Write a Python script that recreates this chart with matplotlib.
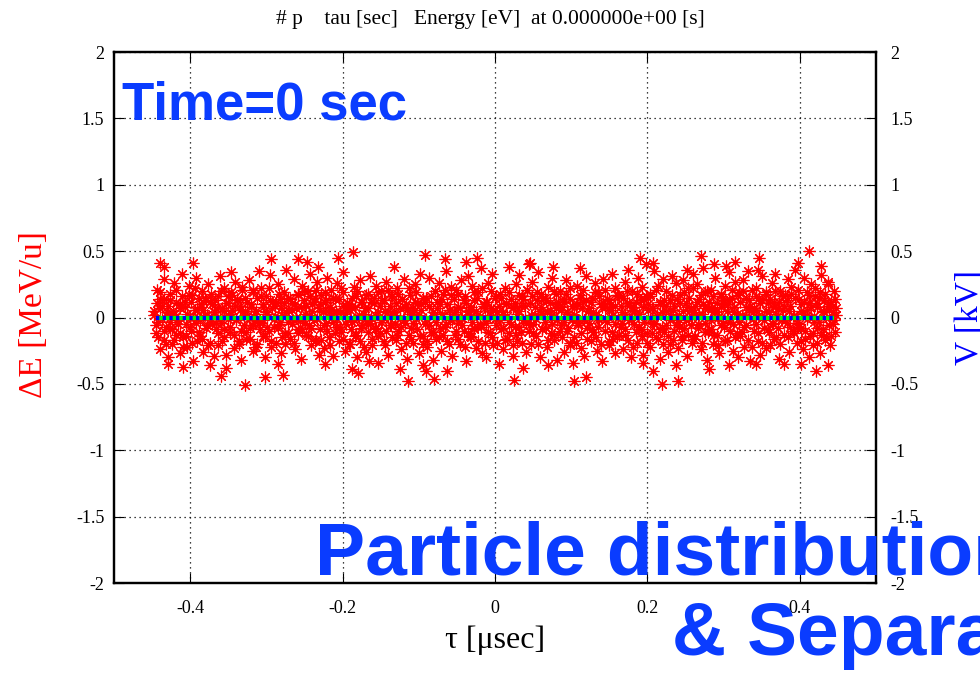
import numpy as np

import matplotlib
matplotlib.use("Agg")

import matplotlib.pyplot as plt

from matplotlib.ticker import FormatStrFormatter


# =========================
# PARTICLE DATA (tau [usec], dE [MeV/u])
# =========================

tau_core = [
    -0.447, -0.445, -0.443, -0.442, -0.440, -0.439, -0.437, -0.435, -0.434, -0.432, -0.431, -0.429,
    -0.427, -0.426, -0.424, -0.422, -0.421, -0.419, -0.418, -0.416, -0.414, -0.413, -0.411, -0.409,
    -0.407, -0.405, -0.404, -0.402, -0.400, -0.399, -0.397, -0.396, -0.394, -0.392, -0.391, -0.389,
    -0.387, -0.386, -0.384, -0.383, -0.381, -0.379, -0.378, -0.376, -0.374, -0.373, -0.371, -0.369,
    -0.368, -0.366, -0.364, -0.363, -0.361, -0.360, -0.358, -0.356, -0.355, -0.353, -0.351, -0.350,
    -0.348, -0.346, -0.345, -0.343, -0.341, -0.340, -0.338, -0.336, -0.335, -0.333, -0.332, -0.330,
    -0.328, -0.327, -0.325, -0.323, -0.322, -0.320, -0.318, -0.317, -0.315, -0.313, -0.312, -0.310,
    -0.308, -0.307, -0.305, -0.304, -0.302, -0.300, -0.299, -0.297, -0.295, -0.294, -0.292, -0.290,
    -0.289, -0.287, -0.285, -0.284, -0.282, -0.281, -0.279, -0.277, -0.276, -0.274, -0.272, -0.271,
    -0.269, -0.267, -0.266, -0.264, -0.262, -0.261, -0.259, -0.258, -0.256, -0.254, -0.253, -0.251,
    -0.249, -0.248, -0.246, -0.244, -0.243, -0.241, -0.240, -0.238, -0.236, -0.235, -0.233, -0.231,
    -0.230, -0.228, -0.226, -0.225, -0.223, -0.222, -0.220, -0.218, -0.217, -0.215, -0.213, -0.212,
    -0.210, -0.208, -0.207, -0.205, -0.203, -0.202, -0.200, -0.199, -0.197, -0.195, -0.194, -0.192,
    -0.190, -0.189, -0.187, -0.185, -0.184, -0.182, -0.181, -0.179, -0.177, -0.176, -0.174, -0.172,
    -0.171, -0.169, -0.167, -0.166, -0.164, -0.163, -0.161, -0.159, -0.158, -0.156, -0.154, -0.153,
    -0.151, -0.149, -0.148, -0.146, -0.145, -0.143, -0.141, -0.140, -0.138, -0.136, -0.135, -0.133,
    -0.131, -0.130, -0.128, -0.127, -0.125, -0.123, -0.122, -0.120, -0.118, -0.117, -0.115, -0.113,
    -0.112, -0.110, -0.108, -0.107, -0.105, -0.104, -0.102, -0.100, -0.099, -0.097, -0.095, -0.094,
    -0.092, -0.090, -0.089, -0.087, -0.086, -0.084, -0.082, -0.081, -0.079, -0.077, -0.076, -0.074,
    -0.072, -0.071, -0.069, -0.068, -0.066, -0.064, -0.063, -0.061, -0.059, -0.058, -0.056, -0.054,
    -0.053, -0.051, -0.049, -0.048, -0.046, -0.045, -0.043, -0.041, -0.040, -0.038, -0.036, -0.035,
    -0.033, -0.031, -0.030, -0.028, -0.027, -0.025, -0.023, -0.022, -0.020, -0.018, -0.017, -0.015,
    -0.013, -0.012, -0.010, -0.009, -0.007, -0.005, -0.004, -0.002, 0.000, 0.001, 0.003, 0.005,
    0.006, 0.008, 0.010, 0.011, 0.013, 0.014, 0.016, 0.018, 0.019, 0.021, 0.023, 0.024,
    0.026, 0.028, 0.029, 0.031, 0.032, 0.034, 0.036, 0.037, 0.039, 0.041, 0.042, 0.044,
    0.046, 0.047, 0.049, 0.050, 0.052, 0.054, 0.055, 0.057, 0.059, 0.060, 0.062, 0.063,
    0.065, 0.067, 0.068, 0.070, 0.072, 0.073, 0.075, 0.077, 0.078, 0.080, 0.081, 0.083,
    0.085, 0.086, 0.088, 0.090, 0.091, 0.093, 0.095, 0.096, 0.098, 0.099, 0.101, 0.103,
    0.104, 0.106, 0.108, 0.109, 0.111, 0.113, 0.114, 0.116, 0.117, 0.119, 0.121, 0.122,
    0.124, 0.126, 0.127, 0.129, 0.131, 0.132, 0.134, 0.135, 0.137, 0.139, 0.140, 0.142,
    0.144, 0.145, 0.147, 0.149, 0.150, 0.152, 0.153, 0.155, 0.157, 0.158, 0.160, 0.162,
    0.163, 0.165, 0.167, 0.168, 0.170, 0.171, 0.173, 0.175, 0.176, 0.178, 0.180, 0.181,
    0.183, 0.185, 0.186, 0.188, 0.189, 0.191, 0.193, 0.194, 0.196, 0.198, 0.199, 0.201,
    0.203, 0.204, 0.206, 0.207, 0.209, 0.211, 0.212, 0.214, 0.216, 0.217, 0.219, 0.221,
    0.222, 0.224, 0.225, 0.227, 0.229, 0.230, 0.232, 0.234, 0.235, 0.237, 0.239, 0.240,
    0.242, 0.243, 0.245, 0.247, 0.248, 0.250, 0.252, 0.253, 0.255, 0.257, 0.258, 0.260,
    0.261, 0.263, 0.265, 0.266, 0.268, 0.270, 0.271, 0.273, 0.275, 0.276, 0.278, 0.279,
    0.281, 0.283, 0.284, 0.286, 0.288, 0.289, 0.291, 0.293, 0.294, 0.296, 0.297, 0.299,
    0.301, 0.302, 0.304, 0.306, 0.307, 0.309, 0.311, 0.312, 0.314, 0.315, 0.317, 0.319,
    0.320, 0.322, 0.324, 0.325, 0.327, 0.329, 0.330, 0.332, 0.333, 0.335, 0.337, 0.338,
    0.340, 0.342, 0.343, 0.345, 0.347, 0.348, 0.350, 0.351, 0.353, 0.355, 0.356, 0.358,
    0.360, 0.361, 0.363, 0.365, 0.366, 0.368, 0.369, 0.371, 0.373, 0.374, 0.376, 0.378,
    0.379, 0.381, 0.383, 0.384, 0.386, 0.387, 0.389, 0.391, 0.392, 0.394, 0.396, 0.397,
    0.399, 0.401, 0.402, 0.404, 0.405, 0.407, 0.409, 0.410, 0.412, 0.414, 0.415, 0.417,
    0.419, 0.420, 0.422, 0.423, 0.425, 0.427, 0.428, 0.430, 0.432, 0.433, 0.435, 0.437,
    0.438, 0.440, 0.441, 0.443, 0.445, 0.446, 0.447,
]

# outer part of the bunch
dE_core = [
    0.05, -0.12, 0.21, -0.03, 0.14, -0.24, 0.09, -0.17, 0.29, -0.07, 0.01, -0.30,
    -0.08, 0.18, -0.20, 0.03, 0.26, -0.13, 0.11, -0.02, -0.27, 0.07, 0.33, -0.15,
    0.12, -0.05, -0.22, 0.24, 0.00, -0.10, 0.17, -0.33, 0.06, 0.30, -0.18, 0.15,
    -0.14, 0.08, 0.20, -0.26, 0.02, 0.13, -0.06, 0.25, -0.19, -0.01, 0.10, -0.29,
    0.04, -0.09, 0.16, -0.21, 0.31, -0.04, 0.07, -0.15, 0.22, -0.28, 0.11, 0.02,
    -0.11, 0.19, 0.06, -0.23, 0.27, -0.01, 0.13, -0.18, 0.09, -0.32, 0.23, -0.06,
    0.15, -0.16, 0.01, 0.28, -0.08, 0.10, -0.25, 0.21, -0.02, 0.05, -0.20, 0.35,
    -0.04, 0.22, -0.14, 0.08, -0.30, 0.16, 0.03, -0.10, 0.32, -0.22, 0.12, -0.07,
    0.09, -0.19, 0.25, -0.05, 0.14, -0.27, 0.02, 0.19, -0.12, 0.36, -0.03, 0.06,
    -0.16, 0.11, -0.01, 0.29, -0.24, 0.07, 0.18, -0.09, 0.00, -0.31, 0.24, 0.13,
    0.03, -0.13, 0.20, -0.06, 0.33, -0.21, 0.10, -0.02, 0.15, -0.17, 0.27, -0.28,
    -0.09, 0.17, 0.05, -0.23, 0.12, -0.04, 0.30, -0.15, 0.08, 0.21, -0.29, 0.01,
    0.14, -0.07, 0.26, -0.18, 0.04, -0.11, 0.19, 0.34, -0.25, 0.06, -0.01, 0.10,
    -0.20, 0.08, -0.03, 0.23, -0.14, 0.16, -0.30, 0.02, 0.28, -0.08, 0.12, -0.22,
    0.07, -0.26, 0.18, -0.05, 0.31, 0.00, -0.16, 0.11, -0.09, 0.24, -0.34, 0.04,
    -0.12, 0.20, -0.02, 0.13, -0.21, 0.27, 0.05, -0.28, 0.09, -0.06, 0.16, 0.38,
    0.02, -0.17, 0.22, -0.10, 0.07, -0.24, 0.14, 0.29, -0.04, 0.10, -0.31, -0.13,
    0.17, -0.08, 0.04, -0.19, 0.25, -0.01, 0.11, -0.27, 0.33, 0.06, -0.14, -0.36,
    -0.05, 0.15, -0.22, 0.09, 0.30, -0.11, 0.01, -0.32, 0.20, -0.16, 0.12, 0.26,
    0.10, -0.25, 0.03, 0.18, -0.07, 0.35, -0.18, 0.06, -0.02, 0.23, -0.29, 0.14,
    -0.13, 0.21, -0.04, 0.08, -0.20, 0.28, 0.00, -0.10, 0.16, -0.33, 0.05, 0.31,
    0.06, -0.15, 0.24, -0.08, 0.13, -0.23, 0.02, 0.19, -0.05, 0.37, -0.27, 0.09,
    -0.19, 0.12, -0.01, 0.26, -0.12, 0.07, 0.33, -0.21, 0.15, -0.06, 0.04, -0.35,
    0.18, -0.09, 0.03, -0.24, 0.22, 0.10, -0.16, 0.38, -0.03, 0.14, -0.29, 0.07,
    -0.07, 0.25, -0.18, 0.05, 0.32, -0.11, 0.16, -0.02, 0.09, -0.26, 0.21, 0.40,
    0.11, -0.20, 0.27, -0.05, 0.02, -0.14, 0.19, 0.34, -0.30, 0.08, -0.09, 0.15,
    -0.03, 0.13, -0.22, 0.23, 0.06, -0.12, 0.30, -0.17, 0.01, 0.18, -0.32, 0.10,
    0.20, -0.06, 0.08, -0.26, 0.14, 0.28, -0.10, 0.03, -0.19, 0.22, -0.02, -0.34,
    -0.15, 0.09, 0.24, -0.04, 0.17, -0.23, 0.00, 0.12, -0.29, 0.31, -0.08, 0.05,
    0.07, -0.18, 0.15, -0.11, 0.26, 0.02, -0.25, 0.19, -0.01, 0.10, -0.33, 0.29,
    -0.10, 0.21, -0.03, 0.13, -0.21, 0.06, 0.33, -0.16, 0.09, -0.27, 0.17, 0.00,
    0.16, -0.07, 0.04, -0.24, 0.27, -0.13, 0.11, 0.36, -0.02, -0.30, 0.20, 0.08,
    -0.05, 0.12, -0.19, 0.30, 0.03, -0.09, 0.23, -0.28, 0.14, 0.40, -0.12, 0.06,
    0.18, -0.22, 0.07, -0.04, 0.35, -0.15, 0.01, 0.24, -0.31, 0.10, -0.08, 0.29,
    -0.11, 0.05, 0.20, -0.26, 0.13, -0.02, 0.31, -0.17, 0.09, 0.26, -0.06, -0.23,
    0.02, 0.17, -0.14, 0.28, -0.08, 0.11, -0.29, 0.22, -0.01, 0.06, -0.19, 0.33,
    -0.16, 0.09, 0.25, -0.05, 0.14, -0.24, 0.03, 0.37, -0.11, 0.19, -0.32, 0.07,
    0.12, -0.09, 0.21, -0.20, 0.05, 0.30, -0.13, 0.00, -0.27, 0.16, 0.08, -0.04,
    -0.07, 0.24, -0.17, 0.10, 0.34, -0.03, 0.15, -0.25, 0.04, 0.27, -0.12, -0.30,
    0.19, -0.14, 0.02, 0.28, -0.22, 0.08, -0.06, 0.35, 0.13, -0.33, 0.21, -0.01,
    -0.10, 0.06, 0.22, -0.18, 0.15, -0.28, 0.31, 0.00, -0.08, 0.18, -0.23, 0.11,
    0.04, -0.21, 0.26, -0.05, 0.12, 0.33, -0.15, 0.07, -0.31, 0.20, -0.02, 0.16,
    -0.13, 0.17, -0.04, 0.29, -0.26, 0.09, 0.23, -0.10, 0.01, 0.36, -0.19, -0.07,
    0.14, -0.08, 0.05, -0.24, 0.30, -0.16, 0.19, 0.02, -0.30, 0.11, 0.25, -0.12,
    -0.03, 0.22, -0.19, 0.08, 0.15, -0.27, 0.32, -0.09, 0.04, 0.18, -0.14, 0.27,
    0.06, -0.21, 0.12, -0.05, 0.20, -0.11, 0.02,
]

# inner, denser part of the bunch (same tau samples)
dE_inner = [
    0.02, -0.06, 0.11, -0.15, 0.07, 0.19, -0.01, -0.10, 0.14, -0.20, 0.04, 0.09,
    -0.03, 0.13, -0.09, 0.05, -0.17, 0.01, 0.21, -0.05, 0.10, -0.12, 0.16, -0.22,
    0.08, -0.14, 0.03, 0.17, -0.07, 0.12, -0.19, 0.00, 0.22, -0.04, 0.06, -0.11,
    -0.02, 0.10, -0.16, 0.06, 0.15, -0.08, 0.02, -0.21, 0.12, 0.18, -0.05, 0.04,
    0.13, -0.04, 0.08, -0.12, 0.00, 0.20, -0.18, 0.05, -0.09, 0.11, -0.01, 0.16,
    -0.07, 0.03, 0.17, -0.13, 0.09, -0.02, 0.14, -0.20, 0.06, -0.10, 0.21, 0.01,
    0.05, -0.11, 0.12, 0.00, -0.16, 0.08, 0.19, -0.06, 0.03, -0.22, 0.15, -0.03,
    -0.09, 0.16, -0.02, 0.10, -0.14, 0.04, -0.07, 0.22, 0.13, -0.18, 0.07, -0.01,
    0.01, 0.12, -0.08, 0.18, -0.03, 0.07, -0.15, 0.11, -0.20, 0.04, 0.15, -0.12,
    0.14, -0.05, 0.06, -0.19, 0.10, 0.00, -0.12, 0.17, -0.02, 0.08, -0.09, 0.20,
    -0.04, 0.09, -0.14, 0.02, 0.16, -0.08, 0.05, 0.12, -0.18, 0.21, -0.01, 0.07,
    0.10, -0.17, 0.04, -0.06, 0.19, 0.13, -0.10, 0.01, -0.21, 0.06, 0.15, -0.03,
    -0.12, 0.05, -0.01, 0.14, -0.07, 0.22, 0.09, -0.16, 0.03, -0.05, 0.11, -0.20,
    0.06, -0.09, 0.15, -0.02, 0.08, -0.13, 0.20, 0.00, -0.18, 0.12, -0.06, 0.03,
    -0.01, 0.17, -0.11, 0.07, -0.04, 0.12, -0.21, 0.15, 0.02, -0.08, 0.19, -0.14,
    0.09, -0.03, 0.13, -0.18, 0.05, -0.10, 0.01, 0.21, -0.06, 0.16, -0.15, 0.04,
    -0.05, 0.11, -0.13, 0.18, 0.00, -0.07, 0.14, -0.02, 0.08, -0.19, 0.06, 0.22,
    0.03, -0.16, 0.07, -0.04, 0.12, 0.19, -0.09, 0.02, -0.14, 0.10, -0.20, 0.15,
    0.12, -0.01, -0.18, 0.09, -0.06, 0.16, 0.04, -0.11, 0.20, -0.03, 0.07, -0.15,
    -0.08, 0.14, 0.01, -0.13, 0.21, -0.05, 0.10, -0.20, 0.06, 0.17, -0.02, 0.03,
    0.04, -0.10, 0.18, -0.16, 0.07, 0.00, -0.06, 0.13, -0.22, 0.11, 0.02, -0.12,
    -0.14, 0.08, -0.03, 0.19, -0.09, 0.05, 0.15, -0.18, 0.01, -0.07, 0.22, 0.10,
    0.07, -0.04, 0.12, -0.11, 0.02, 0.20, -0.15, 0.06, -0.01, 0.16, -0.19, 0.09,
    -0.02, 0.15, -0.08, 0.04, -0.17, 0.11, 0.01, -0.12, 0.19, -0.05, 0.08, -0.21,
    0.11, -0.13, 0.03, 0.17, -0.07, 0.09, -0.19, 0.14, 0.00, -0.04, 0.21, -0.10,
    -0.06, 0.02, 0.16, -0.12, 0.08, -0.01, 0.13, -0.20, 0.05, 0.18, -0.09, 0.03,
    0.15, -0.08, 0.05, -0.17, 0.11, 0.01, -0.05, 0.20, -0.13, 0.07, -0.02, 0.12,
    -0.10, 0.06, -0.15, 0.12, -0.03, 0.18, 0.04, -0.08, 0.14, -0.21, 0.09, 0.00,
    0.02, -0.19, 0.10, -0.06, 0.15, -0.12, 0.07, 0.21, -0.02, 0.13, -0.16, 0.05,
    -0.04, 0.12, -0.09, 0.04, 0.19, -0.15, 0.00, -0.07, 0.16, -0.20, 0.08, 0.11,
    0.08, -0.02, 0.14, -0.18, 0.06, 0.10, -0.11, 0.02, -0.05, 0.22, -0.14, 0.17,
    -0.13, 0.09, -0.04, 0.15, -0.09, 0.03, 0.20, -0.17, 0.11, -0.01, 0.06, -0.22,
    0.05, -0.11, 0.18, 0.01, -0.07, 0.13, -0.14, 0.08, -0.03, 0.16, -0.19, 0.10,
    -0.01, 0.16, -0.12, 0.07, -0.05, 0.21, 0.02, -0.16, 0.12, -0.09, 0.04, -0.20,
    0.13, -0.06, 0.09, -0.14, 0.03, -0.20, 0.17, 0.06, -0.10, 0.00, 0.14, -0.03,
    -0.07, 0.11, -0.17, 0.05, 0.19, -0.02, 0.08, -0.13, 0.15, -0.06, 0.01, 0.22,
    0.04, -0.14, 0.12, -0.08, 0.02, 0.17, -0.19, 0.10, -0.04, 0.07, 0.20, -0.11,
    -0.09, 0.07, -0.02, 0.16, -0.13, 0.04, 0.11, -0.21, 0.01, 0.18, -0.06, 0.13,
    0.10, -0.18, 0.05, -0.01, 0.14, -0.10, 0.21, -0.05, 0.08, -0.15, 0.03, 0.17,
    -0.03, 0.12, -0.11, 0.20, -0.07, 0.01, 0.15, -0.17, 0.06, 0.09, -0.22, 0.04,
    0.07, -0.05, 0.16, -0.12, 0.02, 0.11, -0.19, 0.13, -0.02, 0.05, 0.19, -0.09,
    -0.11, 0.14, -0.04, 0.08, -0.16, 0.20, 0.03, -0.08, 0.12, -0.20, 0.00, 0.06,
    0.09, -0.02, 0.13, -0.15, 0.05, -0.07, 0.18, 0.01, -0.12, 0.15, -0.04, 0.21,
    -0.05, 0.10, -0.18, 0.03, 0.12, -0.10, 0.06, -0.01, 0.17, -0.14, 0.08, -0.21,
    0.01, 0.16, -0.08, 0.11, -0.03, 0.19, -0.13, 0.05, 0.13, -0.17, 0.00, 0.09,
    -0.06, 0.10, -0.14, 0.04, -0.02, 0.14, 0.07,
]

# stray particles at the edge of the bunch
tau_halo = [
    -0.440, -0.435, -0.396, -0.328, -0.186, -0.206, 0.412, 0.219, -0.114, -0.080, 0.025,
    0.104, 0.120, 0.240, 0.190, 0.207, 0.046, 0.076, 0.111, 0.270, 0.346, 0.315,
    -0.092, -0.066, -0.024, -0.038, -0.247, -0.232, -0.346, -0.294, -0.258, -0.429,
    -0.410, -0.360, -0.353, -0.302, -0.278, -0.374, -0.285, -0.223, -0.180, -0.188,
    -0.165, -0.125, -0.090, -0.063, -0.012, 0.037, 0.070, 0.194, 0.207, 0.237,
    0.281, 0.307, 0.342, 0.379, 0.421, 0.437, 0.401, 0.287, 0.303, 0.398, 0.428,
    0.252, 0.345, 0.437,
]

dE_halo = [
    0.41, 0.38, 0.41, -0.51, 0.49, 0.45, 0.50, -0.50, -0.48, -0.46, -0.47,
    -0.48, -0.445, -0.48, 0.45, 0.41, 0.41, 0.38, 0.37, 0.46, 0.45, 0.42,
    0.47, 0.44, 0.45, 0.42, 0.42, 0.38, 0.34, 0.44, 0.44, -0.35,
    -0.37, -0.44, -0.38, -0.45, -0.43, -0.36, -0.35, -0.35, -0.42, -0.39,
    -0.33, -0.39, -0.40, -0.40, -0.30, -0.38, -0.36, -0.34, -0.40, -0.36,
    -0.39, -0.36, -0.35, -0.35, -0.40, -0.36, -0.35, 0.40, 0.39, 0.41, 0.39,
    0.36, 0.36, 0.25,
]

# separator voltage at t = 0 (right axis)
tau_volt = [-0.445, 0.445]
volt_kV = [0.0, 0.0]

x_ticks = [-0.4, -0.2, 0.0, 0.2, 0.4]
y_ticks = [-2, -1.5, -1, -0.5, 0, 0.5, 1, 1.5, 2]

TITLE = "# p    tau [sec]   Energy [eV]  at 0.000000e+00 [s]"


def style_axis(ax, pad):

    ax.tick_params(
        which="both",
        direction="in",
        length=7,
        width=0.8,
        labelsize=13,
        pad=pad
    )

    for spine in ax.spines.values():
        spine.set_linewidth(1.6)


def build_figure():

    plt.rcParams["font.family"] = ["Liberation Serif", "DejaVu Serif"]
    plt.rcParams["axes.unicode_minus"] = False

    fig = plt.figure(figsize=(9.8, 6.74), dpi=100)

    ax = fig.add_axes([0.1163, 0.135, 0.7776, 0.7878])

    tau_all = tau_core + tau_core + tau_halo
    dE_all = dE_core + dE_inner + dE_halo

    ax.plot(
        tau_all,
        dE_all,
        linestyle="none",
        marker=(8, 2, 0),
        markersize=8.5,
        markeredgewidth=0.85,
        color="#ff0000",
        zorder=3
    )

    ax.set_xlim(-0.5, 0.5)
    ax.set_ylim(-2, 2)
    ax.set_xticks(x_ticks)
    ax.set_yticks(y_ticks)
    ax.xaxis.set_major_formatter(FormatStrFormatter("%g"))
    ax.yaxis.set_major_formatter(FormatStrFormatter("%g"))
    ax.tick_params(top=True, right=False)

    ax.grid(True, linestyle=(0, (1, 3)), linewidth=0.9, color="black")

    style_axis(ax, 7)
    ax.tick_params(axis="x", pad=12)

    ax.set_xlabel("τ [μsec]", fontsize=23, labelpad=6)
    ax.set_ylabel("ΔE [MeV/u]", fontsize=24, color="#ff0000", labelpad=21)
    ax.yaxis.set_label_coords(-0.085, 0.505)

    # right axis: voltage
    ax2 = ax.twinx()

    ax2.plot(
        tau_volt, volt_kV,
        color="#00ff00",
        linewidth=3,
        solid_capstyle="butt",
        zorder=4
    )

    ax2.plot(
        tau_volt, volt_kV,
        color="#0000ff",
        linewidth=3,
        linestyle=(0, (0.8, 0.8)),
        dash_capstyle="butt",
        zorder=5
    )

    ax2.set_ylim(-2, 2)
    ax2.set_yticks(y_ticks)
    ax2.yaxis.set_major_formatter(FormatStrFormatter("%g"))
    style_axis(ax2, 10)
    ax2.set_ylabel("V [kV]", fontsize=24, color="#0000ff", labelpad=26)

    fig.text(
        0.5, 0.971, TITLE,
        ha="center", va="center", fontsize=15.5
    )

    # overlay captions
    blue = "#0a3cff"

    fig.text(
        0.1245, 0.823, "Time=0 sec",
        fontfamily="Liberation Sans", fontweight="bold",
        fontsize=38, color=blue, va="baseline"
    )

    fig.text(
        0.321, 0.147, "Particle distribution",
        fontfamily="Liberation Sans", fontweight="bold",
        fontsize=54, color=blue, va="baseline"
    )

    fig.text(
        0.686, 0.028, "& Separator",
        fontfamily="Liberation Sans", fontweight="bold",
        fontsize=54, color=blue, va="baseline"
    )

    fig.savefig("out.png", dpi=100)

    plt.close(fig)


if __name__ == "__main__":

    build_figure()
